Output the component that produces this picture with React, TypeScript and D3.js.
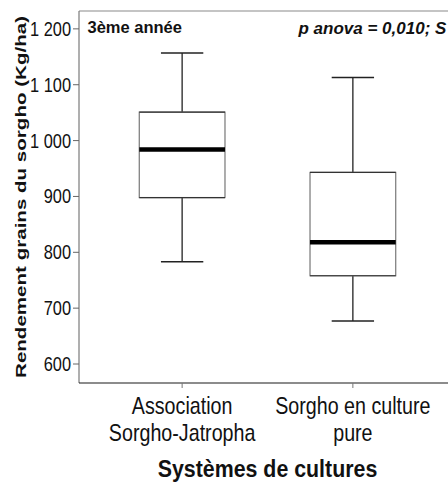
import React from "react";
import * as d3 from "d3";

const categories: string[][] = [
  ["Association", "Sorgho-Jatropha"],
  ["Sorgho en culture", "pure"],
];
const categoryKeys = ["assoc", "pure"];
const whiskerLow = [783, 677];
const q1 = [898, 758];
const median = [984, 818];
const q3 = [1051, 943];
const whiskerHigh = [1157, 1113];
const yTicks = [600, 700, 800, 900, 1000, 1100, 1200];
const yDomain = [566, 1232];

const W = 448;
const H = 487;
const FONT = "'Liberation Sans', Arial, sans-serif";

export default function App() {
  const left = 79;
  const right = 456;
  const top = 11;
  const bottom = 383;

  const y = d3.scaleLinear().domain(yDomain).range([bottom, top]);
  const x = d3.scalePoint<string>().domain(categoryKeys).range([left, right]).padding(0.604);
  const step = x.step();
  const boxW = step * 0.502;
  const capW = step * 0.248;
  const fmt = (v: number) => d3.format(",")(v).replace(",", " ");

  return (
    <svg
      width={W}
      height={H}
      style={{ position: "absolute", left: 0, top: 0, display: "block", background: "#fff" }}
      fontFamily={FONT}
    >
      <rect x={0} y={0} width={W} height={H} fill="#fff" />
      {/* frame */}
      <line x1={left} x2={W} y1={top} y2={top} stroke="#8a8a8a" strokeWidth={1.2} />
      <line x1={left} x2={left} y1={top} y2={bottom} stroke="#7a7a7a" strokeWidth={1.2} />
      <line x1={left} x2={W} y1={bottom} y2={bottom} stroke="#1a1a1a" strokeWidth={1.2} />

      {/* y ticks */}
      {yTicks.map((t) => (
        <g key={t}>
          <line x1={left - 6} x2={left} y1={y(t)} y2={y(t)} stroke="#666" strokeWidth={1} />
          <text
            transform={`translate(${left - 8},${y(t) + 7}) scale(0.84,1)`}
            textAnchor="end"
            fontSize={19.5}
            fill="#111"
          >
            {fmt(t)}
          </text>
        </g>
      ))}

      {/* x ticks and labels */}
      {categoryKeys.map((k, i) => {
        const cx = x(k)!;
        return (
          <g key={k}>
            <line x1={cx} x2={cx} y1={bottom} y2={bottom + 5} stroke="#777" strokeWidth={1} />
            {categories[i].map((line, j) => (
              <text
                key={j}
                transform={`translate(${cx},${413.5 + j * 27}) scale(0.82,1)`}
                textAnchor="middle"
                fontSize={24}
                fill="#111"
              >
                {line}
              </text>
            ))}
          </g>
        );
      })}

      {/* boxes */}
      {categoryKeys.map((k, i) => {
        const cx = x(k)!;
        return (
          <g key={"b" + k}>
            <line x1={cx} x2={cx} y1={y(whiskerHigh[i])} y2={y(q3[i])} stroke="#222" strokeWidth={1.3} />
            <line x1={cx} x2={cx} y1={y(q1[i])} y2={y(whiskerLow[i])} stroke="#222" strokeWidth={1.3} />
            <line x1={cx - capW / 2} x2={cx + capW / 2} y1={y(whiskerHigh[i])} y2={y(whiskerHigh[i])} stroke="#222" strokeWidth={1.5} />
            <line x1={cx - capW / 2} x2={cx + capW / 2} y1={y(whiskerLow[i])} y2={y(whiskerLow[i])} stroke="#222" strokeWidth={1.5} />
            <rect
              x={cx - boxW / 2}
              y={y(q3[i])}
              width={boxW}
              height={y(q1[i]) - y(q3[i])}
              fill="#fff"
              stroke="#777"
              strokeWidth={1.2}
            />
            <line x1={cx - boxW / 2} x2={cx + boxW / 2} y1={y(q3[i])} y2={y(q3[i])} stroke="#333" strokeWidth={1.2} />
            <line x1={cx - boxW / 2} x2={cx + boxW / 2} y1={y(q1[i])} y2={y(q1[i])} stroke="#333" strokeWidth={1.2} />
            <line x1={cx - boxW / 2} x2={cx + boxW / 2} y1={y(median[i])} y2={y(median[i])} stroke="#000" strokeWidth={4.5} />
          </g>
        );
      })}

      {/* annotations */}
      <text x={87.5} y={33} fontSize={16.5} fontWeight="bold" fill="#111">
        3ème année
      </text>
      <text x={298.5} y={34} fontSize={17} fontWeight="bold" fontStyle="italic" fill="#111">
        p anova = 0,010; S
      </text>

      {/* axis titles */}
      <text
        transform={`translate(${(left + right) / 2},477) scale(0.89,1)`}
        textAnchor="middle"
        fontSize={24}
        fontWeight="bold"
        fill="#111"
      >
        Systèmes de cultures
      </text>
      <text
        transform={`translate(26,${(top + bottom) / 2}) rotate(-90) scale(1.335,1)`}
        textAnchor="middle"
        fontSize={15.4}
        fontWeight="bold"
        fill="#111"
      >
        Rendement grains du sorgho (Kg/ha)
      </text>
    </svg>
  );
}
